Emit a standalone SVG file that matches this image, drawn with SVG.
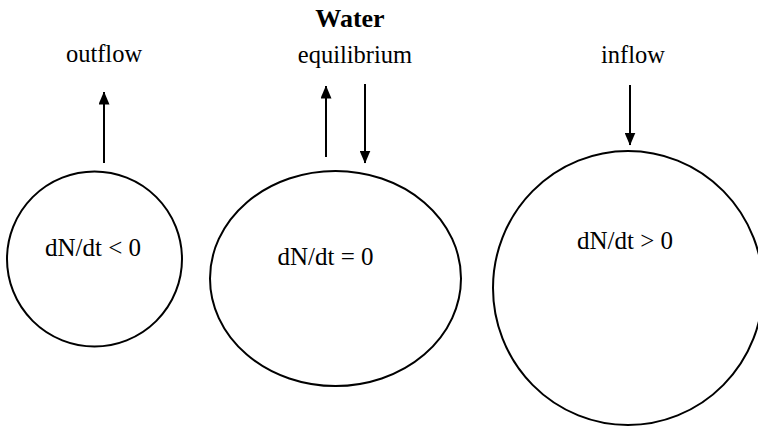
<svg xmlns="http://www.w3.org/2000/svg" width="758" height="426" viewBox="0 0 758 426">
<style>
  text { font-family: "Liberation Serif", "Times New Roman", serif; fill: #000; text-anchor: middle; }
  .lbl { font-size: 24.5px; }
  .eq { font-size: 25px; }
  .title { font-size: 26px; font-weight: bold; }
  .shape { fill: none; stroke: #000; stroke-width: 2; }
  .conn { stroke: #000; stroke-width: 2; fill: none; marker-end: url(#head); }
</style>
<defs>
  <marker id="head" viewBox="0 0 13 11" markerWidth="13" markerHeight="11" refX="12.5" refY="5.5" orient="auto" markerUnits="userSpaceOnUse">
    <path d="M0,0 L13,5.5 L0,11 z" fill="#000"/>
  </marker>
</defs>
<rect width="758" height="426" fill="#fff"/>
<text class="title" x="350" y="27">Water</text>
<text class="lbl" x="104" y="62">outflow</text>
<text class="lbl" x="355" y="63">equilibrium</text>
<text class="lbl" x="633" y="63">inflow</text>
<g id="outflow-node">
  <circle class="shape" cx="94.5" cy="259" r="87.5"/>
  <text class="eq" x="93" y="256">dN/dt &lt; 0</text>
</g>
<g id="equilibrium-node">
  <ellipse class="shape" cx="335.5" cy="278.5" rx="125.5" ry="107.5"/>
  <text class="eq" x="325.5" y="265">dN/dt = 0</text>
</g>
<g id="inflow-node">
  <ellipse class="shape" cx="628" cy="288" rx="135" ry="137"/>
  <text class="eq" x="625" y="249">dN/dt &gt; 0</text>
</g>
<g id="connectors">
  <line class="conn" x1="104" y1="163" x2="104" y2="92"/>
  <line class="conn" x1="326" y1="157" x2="326" y2="86"/>
  <line class="conn" x1="365" y1="84" x2="365" y2="163"/>
  <line class="conn" x1="630" y1="85" x2="630" y2="145"/>
</g>
</svg>
